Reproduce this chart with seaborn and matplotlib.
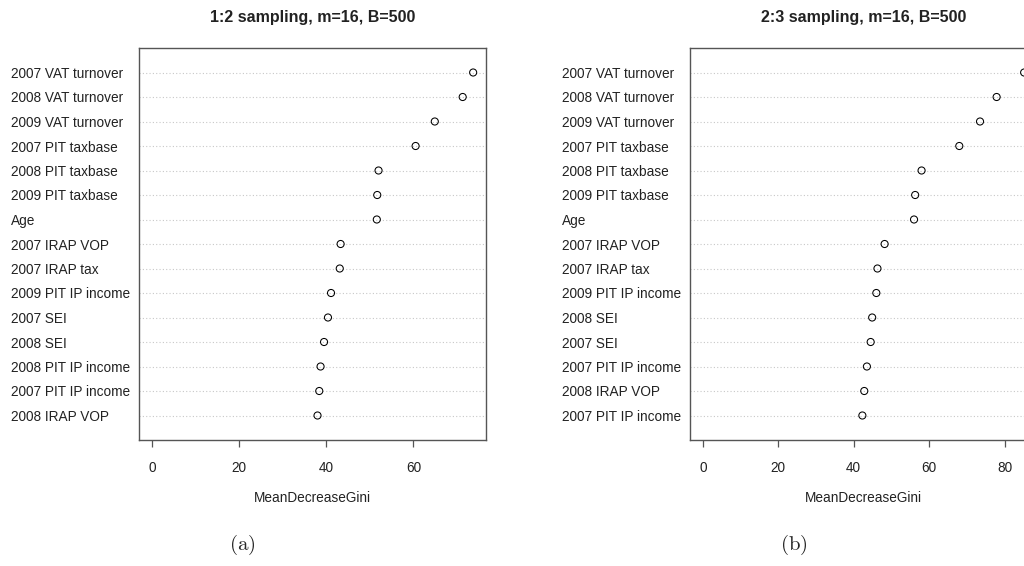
import matplotlib
matplotlib.use("Agg")
import matplotlib.pyplot as plt
import seaborn as sns
import pandas as pd

# ---- data ----
vars_a = ["2007 VAT turnover", "2008 VAT turnover", "2009 VAT turnover",
          "2007 PIT taxbase", "2008 PIT taxbase", "2009 PIT taxbase", "Age",
          "2007 IRAP VOP", "2007 IRAP tax", "2009 PIT IP income", "2007 SEI",
          "2008 SEI", "2008 PIT IP income", "2007 PIT IP income", "2008 IRAP VOP"]
gini_a = [73.7, 71.3, 64.9, 60.5, 52.0, 51.7, 51.6, 43.3, 43.1, 41.1, 40.4,
          39.5, 38.7, 38.4, 38.0]

vars_b = ["2007 VAT turnover", "2008 VAT turnover", "2009 VAT turnover",
          "2007 PIT taxbase", "2008 PIT taxbase", "2009 PIT taxbase", "Age",
          "2007 IRAP VOP", "2007 IRAP tax", "2009 PIT IP income", "2008 SEI",
          "2007 SEI", "2007 PIT IP income", "2008 IRAP VOP", "2007 PIT IP income"]
gini_b = [85.2, 77.9, 73.5, 68.0, 58.0, 56.3, 56.0, 48.2, 46.3, 46.0, 44.9,
          44.5, 43.5, 42.8, 42.3]

titles = ["1:2 sampling, m=16, B=500", "2:3 sampling, m=16, B=500"]
captions = ["a", "b"]
ticks_a = [0, 20, 40, 60]
ticks_b = [0, 20, 40, 60, 80]
xlabel = "MeanDecreaseGini"

# ---- style ----
sns.set_style("white")
plt.rcParams["font.family"] = ["Liberation Sans", "DejaVu Sans"]
plt.rcParams["mathtext.fontset"] = "cm"

fig = plt.figure(figsize=(10.24, 5.66), dpi=100)

positions = [[139 / 1024, 126 / 566, 347 / 1024, 392 / 566],
             [690 / 1024, 126 / 566, 347 / 1024, 392 / 566]]
cap_x = [242 / 1024, 794 / 1024]

panels = [(vars_a, gini_a, ticks_a), (vars_b, gini_b, ticks_b)]

for i, (labels, vals, ticks) in enumerate(panels):
    ax = fig.add_axes(positions[i])
    # duplicate labels (e.g. "2007 PIT IP income" twice in (b)) -> unique keys
    keys = []
    seen = {}
    for lab in labels:
        n = seen.get(lab, 0)
        keys.append(lab + " " * n)
        seen[lab] = n + 1
    df = pd.DataFrame({"var": keys, "gini": vals})
    sns.scatterplot(data=df, x="gini", y="var", ax=ax, s=26, marker="o",
                    legend=False, zorder=3)
    coll = ax.collections[-1]
    coll.set_facecolor("none")
    coll.set_edgecolor("black")
    coll.set_linewidth(0.75)

    vmax = max(vals)
    ax.set_xlim(-0.04 * vmax, 1.04 * vmax)
    ax.set_ylim(len(labels), -1)
    ax.set_xticks(ticks)
    ax.set_xticklabels([str(t) for t in ticks])
    ax.set_yticks(range(len(labels)))
    ax.set_yticklabels(labels)

    ax.grid(axis="y", linestyle=(0, (1, 2)), color="#c8c8c8", linewidth=0.8)
    ax.grid(axis="x", visible=False)
    ax.set_axisbelow(True)

    for sp in ax.spines.values():
        sp.set_visible(True)
        sp.set_color("#555555")
        sp.set_linewidth(1.0)

    ax.tick_params(axis="x", direction="out", length=5, width=0.9,
                   color="#555555", pad=10, labelsize=9.8, labelcolor="#222222",
                   bottom=True)
    ax.tick_params(axis="y", length=0, pad=92, labelsize=9.8, labelcolor="#222222")
    for t in ax.get_yticklabels():
        t.set_horizontalalignment("left")

    ax.set_ylabel("")
    ax.set_xlabel(xlabel, fontsize=9.8, color="#222222", labelpad=11.5)
    ax.set_title(titles[i], fontsize=11.5, fontweight="bold", pad=19,
                 color="#222222")

    fig.text(cap_x[i], 1 - 545 / 566, r"$(\mathrm{%s})$" % captions[i],
             ha="center", va="center", fontsize=15)

fig.savefig("out.png", dpi=100, facecolor="white")
